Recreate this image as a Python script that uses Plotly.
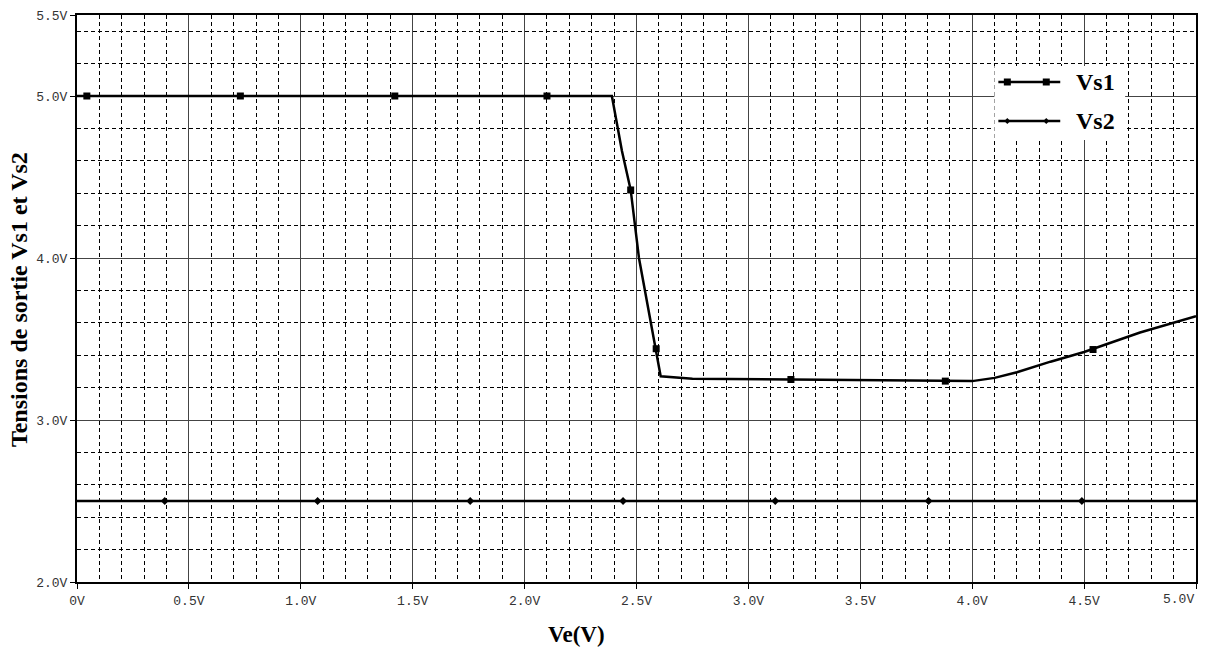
import plotly.graph_objects as go

# ---- data ----
vs1_x = [0, 2.39, 2.435, 2.474, 2.511, 2.588, 2.608, 2.75, 3.2, 3.6, 3.9, 4.0, 4.1, 4.2, 4.35, 4.5, 4.75, 5.0]
vs1_y = [5.0, 5.0, 4.66, 4.42, 4.0, 3.44, 3.27, 3.255, 3.25, 3.245, 3.24, 3.24, 3.26, 3.295, 3.36, 3.42, 3.54, 3.64]
vs1_mx = [0.044, 0.73, 1.42, 2.10, 2.474, 2.588, 3.19, 3.88, 4.54]
vs1_my = [5.0, 5.0, 5.0, 5.0, 4.42, 3.44, 3.25, 3.24, 3.435]

vs2_x = [0, 5.0]
vs2_y = [2.5, 2.5]
vs2_mx = [0.392, 1.075, 1.757, 2.44, 3.12, 3.805, 4.49]
vs2_my = [2.5, 2.5, 2.5, 2.5, 2.5, 2.5, 2.5]

x_ticks = [0, 0.5, 1.0, 1.5, 2.0, 2.5, 3.0, 3.5, 4.0, 4.5, 5.0]
x_labels = ["0V", "0.5V", "1.0V", "1.5V", "2.0V", "2.5V", "3.0V", "3.5V", "4.0V", "4.5V", "5.0V"]
y_ticks = [2.0, 3.0, 4.0, 5.0, 5.5]
y_labels = ["2.0V", "3.0V", "4.0V", "5.0V", "5.5V"]
series_names = ["Vs1", "Vs2"]

W, H = 1206, 648
L, R, T, B = 77, 1198, 15, 582


def fx(px):
    return (px - L) / (R - L)


def fy(py):
    return (B - py) / (B - T)


fig = go.Figure()
fig.add_trace(go.Scatter(x=vs1_x, y=vs1_y, mode="lines", line=dict(color="black", width=2.5),
                         showlegend=False, hoverinfo="skip"))
fig.add_trace(go.Scatter(x=vs1_mx, y=vs1_my, mode="markers", marker=dict(symbol="square", size=7, color="black"),
                         showlegend=False, name=series_names[0]))
fig.add_trace(go.Scatter(x=vs2_x, y=vs2_y, mode="lines", line=dict(color="black", width=2.5),
                         showlegend=False, hoverinfo="skip"))
fig.add_trace(go.Scatter(x=vs2_mx, y=vs2_my, mode="markers", marker=dict(symbol="diamond", size=6, color="black"),
                         showlegend=False, name=series_names[1]))

tickfont = dict(family="Liberation Mono, Courier New, monospace", size=13, color="#333")
serif = "Liberation Serif, Times New Roman, serif"

# last x label is right-aligned at the plot edge (drawn as annotation)
x_text_axis = x_labels[:-1] + [""]

fig.update_xaxes(range=[0, 5], tickmode="array", tickvals=x_ticks, ticktext=x_text_axis,
                 showgrid=True, gridcolor="#444", gridwidth=1,
                 minor=dict(tickmode="linear", tick0=0, dtick=0.1, showgrid=True, gridcolor="black",
                            gridwidth=1, griddash="4px,3px", ticks=""),
                 ticks="outside", ticklen=5, tickcolor="black", tickwidth=1,
                 showline=True, linecolor="black", linewidth=2, mirror=True,
                 zeroline=False, tickfont=tickfont)
fig.update_yaxes(range=[2, 5.5], tickmode="array", tickvals=y_ticks, ticktext=y_labels,
                 showgrid=True, gridcolor="#444", gridwidth=1,
                 minor=dict(tickmode="linear", tick0=2, dtick=0.2, showgrid=True, gridcolor="black",
                            gridwidth=1, griddash="4px,3px", ticks=""),
                 ticks="outside", ticklen=5, tickcolor="black", tickwidth=1,
                 showline=True, linecolor="black", linewidth=2, mirror=True,
                 zeroline=False, tickfont=tickfont)

shapes = []
annotations = []
# legend box
shapes.append(dict(type="rect", xref="paper", yref="paper", x0=fx(996), x1=fx(1127), y0=fy(140), y1=fy(66),
                   fillcolor="white", line=dict(width=0), layer="above"))
leg_rows = [82, 121]
for i, (name, yy) in enumerate(zip(series_names, leg_rows)):
    shapes.append(dict(type="line", xref="paper", yref="paper", x0=fx(1000), x1=fx(1062), y0=fy(yy), y1=fy(yy),
                       line=dict(color="black", width=2.5), layer="above"))
    for mx in (1009, 1048):
        if i == 0:
            shapes.append(dict(type="rect", xref="paper", yref="paper", x0=fx(mx - 3.5), x1=fx(mx + 3.5),
                               y0=fy(yy + 3.5), y1=fy(yy - 3.5), fillcolor="black", line=dict(width=0),
                               layer="above"))
        else:
            shapes.append(dict(type="path", xref="paper", yref="paper",
                               path=f"M {fx(mx - 3)} {fy(yy)} L {fx(mx)} {fy(yy - 3)} L {fx(mx + 3)} {fy(yy)} L {fx(mx)} {fy(yy + 3)} Z",
                               fillcolor="black", line=dict(width=0), layer="above"))
    annotations.append(dict(text=f"<b>{name}</b>", xref="paper", yref="paper", x=fx(1076), y=fy(yy),
                            xanchor="left", yanchor="middle", showarrow=False,
                            font=dict(family=serif, size=24, color="black")))

annotations.append(dict(text=x_labels[-1], xref="x", yref="paper", x=x_ticks[-1], y=fy(600),
                        xanchor="right", yanchor="middle", showarrow=False, font=tickfont))
annotations.append(dict(text="<b>Ve(V)</b>", xref="paper", yref="paper", x=fx(577), y=fy(634),
                        xanchor="center", yanchor="middle", showarrow=False,
                        font=dict(family=serif, size=23, color="black")))
annotations.append(dict(text="<b>Tensions de sortie Vs1 et Vs2</b>", xref="paper", yref="paper", x=fx(19),
                        y=fy(300), xanchor="center", yanchor="middle", textangle=-90, showarrow=False,
                        font=dict(family=serif, size=24, color="black")))

fig.update_layout(width=W, height=H, margin=dict(l=L, r=W - R, t=T, b=H - B, pad=0),
                  plot_bgcolor="white", paper_bgcolor="white", shapes=shapes, annotations=annotations,
                  showlegend=False)

fig.write_html("out.html", config={"displayModeBar": False},
               post_script="document.body.style.margin='0';document.body.style.overflow='hidden';")
